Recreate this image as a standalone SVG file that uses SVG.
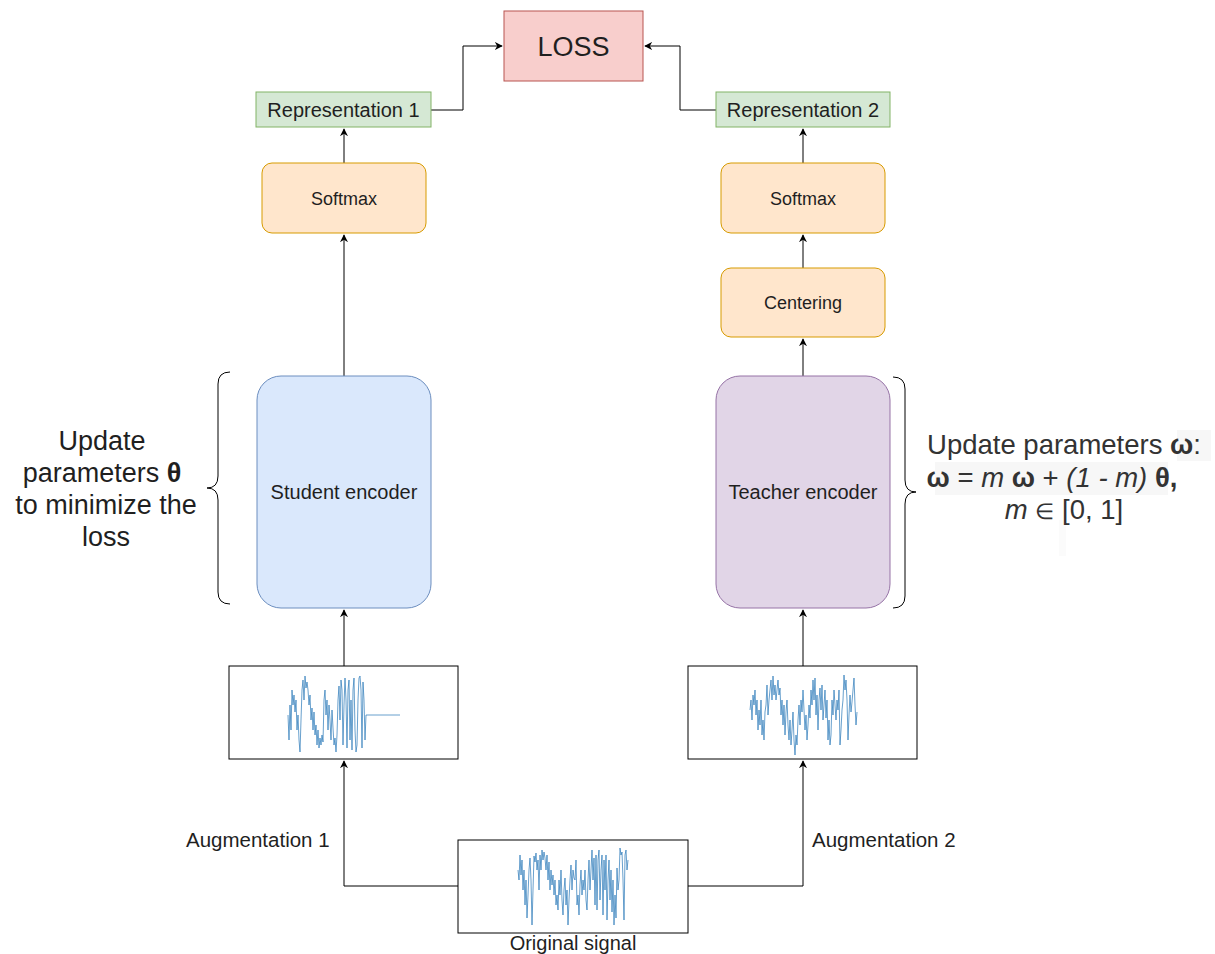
<svg xmlns="http://www.w3.org/2000/svg" width="1215" height="954" viewBox="0 0 1215 954">
<style>
text{font-family:"Liberation Sans",Arial,sans-serif;fill:#1f1f1f}
.c{text-anchor:middle}
.loss{fill:#f8cecc;stroke:#b85450;stroke-width:1}
.rep{fill:#d5e8d4;stroke:#82b366;stroke-width:1}
.orange{fill:#ffe6cc;stroke:#d79b00;stroke-width:1}
.blue{fill:#dae8fc;stroke:#6c8ebf;stroke-width:1}
.purple{fill:#e1d5e7;stroke:#9673a6;stroke-width:1}
.sigbox{fill:#fff;stroke:#000;stroke-width:1}
.edge{fill:none;stroke:#000;stroke-width:1}
.brace{fill:none;stroke:#000;stroke-width:1}
.sig{fill:none;stroke:#2878b8;stroke-width:1;stroke-opacity:0.7;stroke-linejoin:round}
.note{fill:#333}
</style>
<defs>
<marker id="arr" viewBox="0 0 10 10" refX="9" refY="5" markerWidth="8" markerHeight="8" orient="auto" markerUnits="userSpaceOnUse">
<path d="M0,0 L10,5 L0,10 L3,5 Z" fill="#000"/>
</marker>
</defs>

<g id="connectors">
<path class="edge" d="M431,110 H463 V46 H502" marker-end="url(#arr)"/>
<path class="edge" d="M716,110 H680 V46 H645" marker-end="url(#arr)"/>
<path class="edge" d="M344,163 V129" marker-end="url(#arr)"/>
<path class="edge" d="M344,376 V235" marker-end="url(#arr)"/>
<path class="edge" d="M344,666 V610" marker-end="url(#arr)"/>
<path class="edge" d="M458,886 H344 V761" marker-end="url(#arr)"/>
<path class="edge" d="M803,163 V129" marker-end="url(#arr)"/>
<path class="edge" d="M803,268 V235" marker-end="url(#arr)"/>
<path class="edge" d="M803,376 V339" marker-end="url(#arr)"/>
<path class="edge" d="M803,666 V610" marker-end="url(#arr)"/>
<path class="edge" d="M688,886 H803 V761" marker-end="url(#arr)"/>
</g>

<g id="loss">
<rect class="loss" x="504" y="11" width="139" height="70"/>
<text class="c" x="573.5" y="56" font-size="27">LOSS</text>
</g>

<g id="rep1">
<rect class="rep" x="256" y="92" width="175" height="35"/>
<text class="c" x="343.5" y="117" font-size="20">Representation 1</text>
</g>
<g id="rep2">
<rect class="rep" x="716" y="92" width="174" height="35"/>
<text class="c" x="803" y="117" font-size="20">Representation 2</text>
</g>

<g id="softmax1">
<rect class="orange" x="262" y="163" width="164" height="70" rx="10"/>
<text class="c" x="344" y="204.5" font-size="18">Softmax</text>
</g>
<g id="softmax2">
<rect class="orange" x="721" y="163" width="164" height="70" rx="10"/>
<text class="c" x="803" y="204.5" font-size="18">Softmax</text>
</g>
<g id="centering">
<rect class="orange" x="721" y="268" width="164" height="69" rx="10"/>
<text class="c" x="803" y="309" font-size="18">Centering</text>
</g>

<g id="student">
<rect class="blue" x="257" y="376" width="174" height="232" rx="24"/>
<text class="c" x="344" y="498.5" font-size="20">Student encoder</text>
</g>
<g id="teacher">
<rect class="purple" x="716" y="376" width="174" height="232" rx="24"/>
<text class="c" x="803" y="498.5" font-size="20">Teacher encoder</text>
</g>

<g id="brace-left">
<path class="brace" d="M230,372 Q218,372 218,384 L218,476 Q218,488 207,488 Q218,488 218,500 L218,592 Q218,604 230,604"/>
</g>
<g id="brace-right">
<path class="brace" d="M893,377 Q905,377 905,389 L905,480 Q905,492 916,492 Q905,492 905,504 L905,596 Q905,608 893,608"/>
</g>

<g id="note-left">
<text class="c" x="102" y="450" font-size="27">Update</text>
<text class="c" x="102" y="482" font-size="27">parameters <tspan font-weight="bold">θ</tspan></text>
<text class="c" x="106" y="514" font-size="27">to minimize the</text>
<text class="c" x="106" y="546" font-size="27">loss</text>
</g>

<g id="note-right">
<rect x="1177" y="430" width="34" height="31" fill="#f7f7f7"/>
<rect x="935" y="462" width="233" height="33" fill="#f7f7f7"/>
<rect x="1059" y="520" width="7" height="36" fill="#fbfbfb"/>
<text class="c note" x="1064" y="454" font-size="27.5">Update parameters <tspan font-weight="bold">ω</tspan>:</text>
<text class="c note" x="1052" y="487" font-size="27.5"><tspan font-weight="bold">ω</tspan> = <tspan font-style="italic">m</tspan> <tspan font-weight="bold">ω</tspan> + <tspan font-style="italic">(1 - m)</tspan> <tspan font-weight="bold">θ,</tspan></text>
<text class="c note" x="1064" y="519" font-size="27.5"><tspan font-style="italic">m</tspan> <tspan font-size="22">∈</tspan> [0, 1]</text>
</g>

<g id="aug1-box">
<rect class="sigbox" x="229" y="666" width="229" height="93"/>
<polyline class="sig" points="288,715 289,740 290,705 291,730 292,690 293,705 294,695 295,712 296,700 297,730 298,715 299,740 300,752 301,720 302,690 303,680 304,700 305,676 306,688 307,682 308,690 309,705 310,695 311,720 312,708 313,730 314,712 315,735 316,725 317,745 318,730 319,748 320,738 321,745 322,735 323,742 324,700 325,690 326,715 327,700 328,730 329,705 330,720 331,740 332,710 333,728 334,745 335,738 336,752 337,735 338,700 339,686 340,720 341,680 342,690 343,745 344,705 345,678 346,700 347,748 348,690 349,680 350,740 351,700 352,750 353,690 354,678 355,730 356,752 357,745 358,700 359,678 360,676 361,690 362,748 363,682 364,700 365,740 366,715 400,715"/>
</g>

<g id="aug2-box">
<rect class="sigbox" x="688" y="666" width="229" height="93"/>
<polyline class="sig" points="750,710 751,700 752,720 753,695 754,705 755,690 756,715 757,700 758,730 759,710 760,725 761,700 762,735 763,720 764,740 765,712 766,705 767,685 768,715 769,700 770,690 771,680 772,700 773,676 774,695 775,685 776,700 777,690 778,680 779,695 780,688 781,715 782,700 783,725 784,705 785,735 786,712 787,700 788,725 789,740 790,720 791,745 792,730 793,712 794,740 795,755 796,735 797,745 798,720 799,705 800,725 801,700 802,712 803,690 804,710 805,730 806,715 807,740 808,725 809,705 810,718 811,690 812,705 813,680 814,700 815,678 816,715 817,695 818,730 819,700 820,688 821,710 822,685 823,720 824,705 825,690 826,718 827,700 828,740 829,720 830,745 831,735 832,700 833,715 834,690 835,705 836,720 837,700 838,710 839,690 840,745 841,730 842,710 843,700 844,675 845,690 846,680 847,700 848,740 849,715 850,695 851,712 852,702 853,690 854,678 855,705 856,725 857,712"/>
</g>

<g id="original-box">
<rect class="sigbox" x="458" y="840" width="230" height="93"/>
<polyline class="sig" points="518,870 519,880 520,855 521,875 522,860 523,890 524,870 525,905 526,880 527,918 528,895 529,870 530,858 531,880 532,925 533,890 534,856 535,862 536,853 537,870 538,860 539,890 540,855 541,870 542,850 543,860 544,852 545,858 546,870 547,855 548,880 549,862 550,890 551,870 552,885 553,875 554,895 555,880 556,905 557,895 558,910 559,880 560,895 561,870 562,900 563,915 564,890 565,878 566,905 567,890 568,925 569,900 570,880 571,865 572,890 573,870 574,878 575,880 576,860 577,905 578,895 579,915 580,885 581,870 582,895 583,880 584,890 585,870 586,900 587,910 588,880 589,860 590,890 591,870 592,850 593,880 594,858 595,905 596,855 597,910 598,860 599,850 600,900 601,870 602,855 603,915 604,860 605,890 606,855 607,920 608,880 609,860 610,900 611,870 612,912 613,880 614,925 615,895 616,918 617,868 618,890 619,880 620,848 621,855 622,852 623,880 624,920 625,855 626,850 627,870 628,860"/>
<text class="c" x="573" y="950" font-size="20">Original signal</text>
</g>

<g id="aug-labels">
<text x="186" y="847" font-size="20.5">Augmentation 1</text>
<text x="812" y="847" font-size="20.5">Augmentation 2</text>
</g>
</svg>
